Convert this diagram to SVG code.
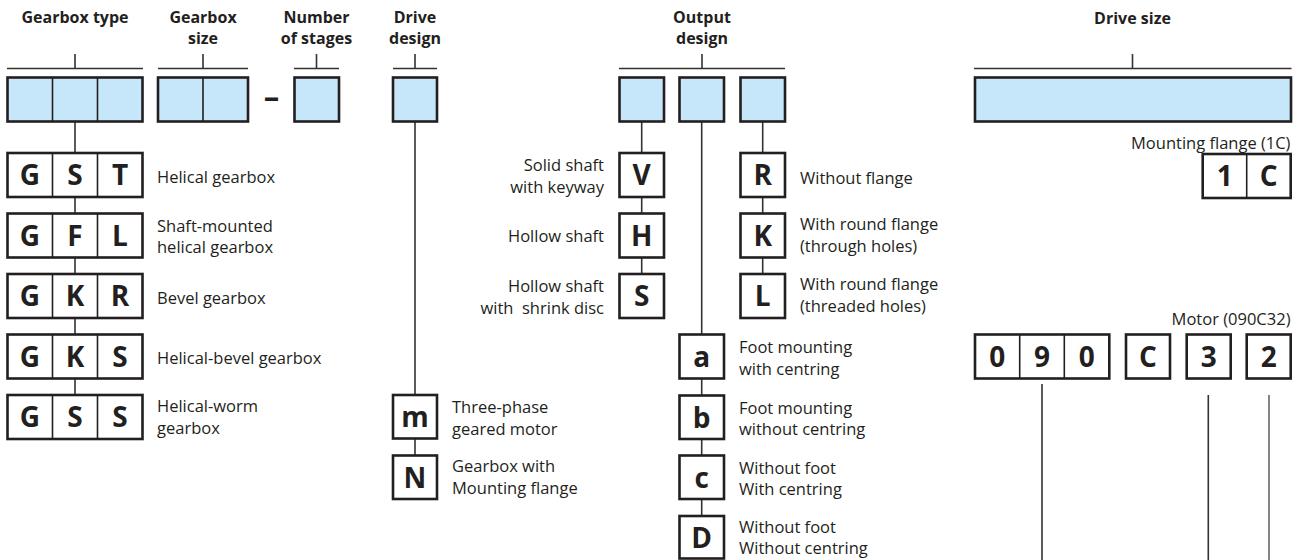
<svg xmlns="http://www.w3.org/2000/svg" width="1307" height="560" viewBox="0 0 1307 560">
<style>
.hd{font-family:"Open Sans","Liberation Sans",sans-serif;font-weight:bold;font-size:16px;fill:#231f20;text-anchor:middle}
.lb{font-family:"Open Sans","Liberation Sans",sans-serif;font-size:16.5px;fill:#231f20}
.rt{text-anchor:end}
.ch{font-family:"Open Sans","Liberation Sans",sans-serif;font-weight:bold;font-size:28px;fill:#231f20;text-anchor:middle}
.bl{fill:#c6e7f9;stroke:#231f20;stroke-width:2.6}
.wb{fill:#fff;stroke:#231f20;stroke-width:2.6}
.dv{stroke:#231f20;stroke-width:1.6;fill:none}
.ln{stroke:#333;stroke-width:1.6;fill:none}
</style>
<rect width="1307" height="560" fill="#fff"/>
<g id="connectors">
<path class="ln" d="M7 68.5H143M75 54V68.5M158 68.5H248M203 54V68.5M294 68.5H339M316.5 54V68.5M393 68.5H437M415 54V68.5M619 68.5H785M702 54V68.5M974 68.5H1291.5M1132.5 54V68.5"/>
<path class="ln" d="M75 121.5V396M415 121.5V395M415 438V455M641.7 121.5V274M701.7 121.5V516M762.7 121.5V274M1042 384V560M1208.3 395V560"/>
<path d="M1269 395V560" stroke="#666" stroke-width="1.6"/>
</g>
<g id="headers">
<text class="hd" x="75" y="23">Gearbox type</text>
<text class="hd" x="203" y="23">Gearbox</text><text class="hd" x="203" y="44">size</text>
<text class="hd" x="316.5" y="23">Number</text><text class="hd" x="316.5" y="44">of stages</text>
<text class="hd" x="415" y="23">Drive</text><text class="hd" x="415" y="44">design</text>
<text class="hd" x="702" y="23">Output</text><text class="hd" x="702" y="44">design</text>
<text class="hd" x="1132.5" y="24">Drive size</text>
</g>
<g id="top-boxes">
<g id="box-gearbox-type"><rect class="bl" x="7.5" y="77.5" width="135" height="44"/><path class="dv" d="M52.5 77.5V121.5M97.5 77.5V121.5"/></g>
<g id="box-gearbox-size"><rect class="bl" x="158" y="77.5" width="90" height="44"/><path class="dv" d="M203 77.5V121.5"/></g>
<text id="dash" class="hd" x="271.5" y="107.5" style="font-size:31px">–</text>
<g id="box-stages"><rect class="bl" x="294.5" y="77.5" width="44.5" height="44"/></g>
<g id="box-drive-design"><rect class="bl" x="393" y="77.5" width="44" height="44"/></g>
<g id="box-output-1"><rect class="bl" x="619.5" y="77.5" width="44.5" height="44"/></g>
<g id="box-output-2"><rect class="bl" x="679.5" y="77.5" width="44.5" height="44"/></g>
<g id="box-output-3"><rect class="bl" x="740.5" y="77.5" width="44.5" height="44"/></g>
<g id="box-drive-size"><rect class="bl" x="975" y="77.5" width="316" height="44"/></g>
</g>
<g id="gst"><rect class="wb" x="7.5" y="153" width="135" height="44"/><path class="dv" d="M52.5 153V197M97.5 153V197"/>
<text class="ch" x="30" y="185">G</text><text class="ch" x="75" y="185">S</text><text class="ch" x="120" y="185">T</text>
<text class="lb" x="157" y="183">Helical gearbox</text></g>
<g id="gfl"><rect class="wb" x="7.5" y="213.5" width="135" height="44"/><path class="dv" d="M52.5 213.5V257.5M97.5 213.5V257.5"/>
<text class="ch" x="30" y="245.5">G</text><text class="ch" x="75" y="245.5">F</text><text class="ch" x="120" y="245.5">L</text>
<text class="lb" x="157" y="231.5">Shaft-mounted</text><text class="lb" x="157" y="253">helical gearbox</text></g>
<g id="gkr"><rect class="wb" x="7.5" y="274" width="135" height="44"/><path class="dv" d="M52.5 274V318M97.5 274V318"/>
<text class="ch" x="30" y="306">G</text><text class="ch" x="75" y="306">K</text><text class="ch" x="120" y="306">R</text>
<text class="lb" x="157" y="303.5">Bevel gearbox</text></g>
<g id="gks"><rect class="wb" x="7.5" y="334.5" width="135" height="44"/><path class="dv" d="M52.5 334.5V378.5M97.5 334.5V378.5"/>
<text class="ch" x="30" y="366.5">G</text><text class="ch" x="75" y="366.5">K</text><text class="ch" x="120" y="366.5">S</text>
<text class="lb" x="157" y="364">Helical-bevel gearbox</text></g>
<g id="gss"><rect class="wb" x="7.5" y="395" width="135" height="44"/><path class="dv" d="M52.5 395V439M97.5 395V439"/>
<text class="ch" x="30" y="427">G</text><text class="ch" x="75" y="427">S</text><text class="ch" x="120" y="427">S</text>
<text class="lb" x="157" y="412">Helical-worm</text><text class="lb" x="157" y="434">gearbox</text></g>
<g id="m"><rect class="wb" x="393" y="395" width="44" height="43.5"/><text class="ch" x="415" y="427">m</text>
<text class="lb" x="452" y="412.5">Three-phase</text><text class="lb" x="452" y="435">geared motor</text></g>
<g id="n"><rect class="wb" x="393" y="455.5" width="44" height="43.5"/><text class="ch" x="415" y="487.5">N</text>
<text class="lb" x="452" y="472">Gearbox with</text><text class="lb" x="452" y="494">Mounting flange</text></g>
<g id="v"><rect class="wb" x="619.5" y="153" width="44.5" height="44"/><text class="ch" x="641.7" y="185">V</text>
<text class="lb rt" x="604" y="171">Solid shaft</text><text class="lb rt" x="604" y="193">with keyway</text></g>
<g id="h"><rect class="wb" x="619.5" y="213.5" width="44.5" height="44"/><text class="ch" x="641.7" y="245.5">H</text>
<text class="lb rt" x="604" y="242">Hollow shaft</text></g>
<g id="s"><rect class="wb" x="619.5" y="274" width="44.5" height="44"/><text class="ch" x="641.7" y="306">S</text>
<text class="lb rt" x="604" y="292">Hollow shaft</text><text class="lb rt" x="604" y="313.5" style="white-space:pre">with  shrink disc</text></g>
<g id="r"><rect class="wb" x="740.5" y="153" width="44.5" height="44"/><text class="ch" x="762.7" y="185">R</text>
<text class="lb" x="800" y="183.5">Without flange</text></g>
<g id="k"><rect class="wb" x="740.5" y="213.5" width="44.5" height="44"/><text class="ch" x="762.7" y="245.5">K</text>
<text class="lb" x="800" y="229.5">With round flange</text><text class="lb" x="800" y="251.5">(through holes)</text></g>
<g id="l"><rect class="wb" x="740.5" y="274" width="44.5" height="44"/><text class="ch" x="762.7" y="306">L</text>
<text class="lb" x="800" y="289.5">With round flange</text><text class="lb" x="800" y="311.5">(threaded holes)</text></g>
<g id="a"><rect class="wb" x="679.5" y="334.5" width="44.5" height="44"/><text class="ch" x="701.7" y="366.5">a</text>
<text class="lb" x="739" y="353">Foot mounting</text><text class="lb" x="739" y="374.5">with centring</text></g>
<g id="b"><rect class="wb" x="679.5" y="395.5" width="44.5" height="43.5"/><text class="ch" x="701.7" y="427.5">b</text>
<text class="lb" x="739" y="413.5">Foot mounting</text><text class="lb" x="739" y="435">without centring</text></g>
<g id="c"><rect class="wb" x="679.5" y="455.5" width="44.5" height="43.5"/><text class="ch" x="701.7" y="487.5">c</text>
<text class="lb" x="739" y="473.5">Without foot</text><text class="lb" x="739" y="495">With centring</text></g>
<g id="d"><rect class="wb" x="679.5" y="516" width="44.5" height="42.5"/><text class="ch" x="701.7" y="547.5">D</text>
<text class="lb" x="739" y="532.5">Without foot</text><text class="lb" x="739" y="553.5">Without centring</text></g>
<g id="flange-1c"><text class="lb rt" x="1290.5" y="149">Mounting flange (1C)</text>
<rect class="wb" x="1202.7" y="154" width="88" height="44"/><path class="dv" d="M1246.7 154V198"/>
<text class="ch" x="1224.7" y="186">1</text><text class="ch" x="1268.7" y="186">C</text></g>
<g id="motor"><text class="lb rt" x="1290.5" y="325">Motor (090C32)</text>
<rect class="wb" x="975" y="334.5" width="134.3" height="44"/><path class="dv" d="M1019.7 334.5V378.5M1064.3 334.5V378.5"/>
<text class="ch" x="997.3" y="366.5">0</text><text class="ch" x="1042" y="366.5">9</text><text class="ch" x="1086.8" y="366.5">0</text>
<rect class="wb" x="1126" y="334.5" width="44" height="44"/><text class="ch" x="1148" y="366.5">C</text>
<rect class="wb" x="1186.7" y="334.5" width="44" height="44"/><text class="ch" x="1208.7" y="366.5">3</text>
<rect class="wb" x="1246.7" y="334.5" width="44" height="44"/><text class="ch" x="1268.7" y="366.5">2</text></g>
</svg>
